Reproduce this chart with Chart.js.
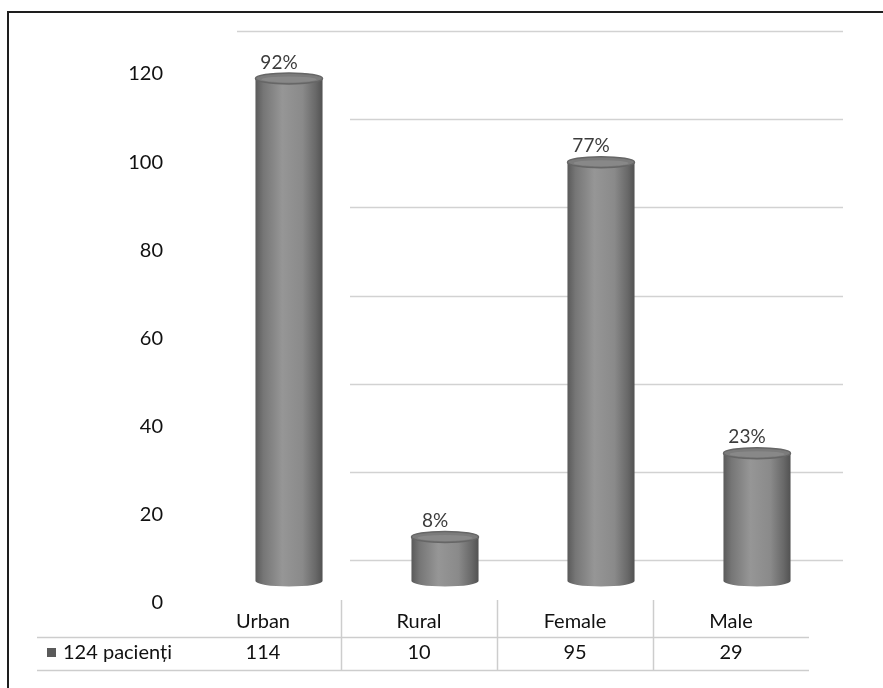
<!DOCTYPE html>
<html>
<head>
<meta charset="utf-8">
<script src="https://cdn.jsdelivr.net/npm/chart.js@4/dist/chart.umd.min.js"></script>
<style>
  html, body { margin: 0; padding: 0; background: #ffffff; }
  #wrap { position: relative; width: 883px; height: 688px; }
</style>
</head>
<body>
<div id="wrap"><canvas id="chart" width="883" height="688"></canvas></div>
<script>
// Patient distribution by residence and sex
const categories = ['Urban', 'Rural', 'Female', 'Male'];
const patients = [114, 10, 95, 29];
const totalPatients = 124;
const seriesName = '124 pacienți';
const yTicks = [0, 20, 40, 60, 80, 100, 120];

const FONT = 'Lato, "Open Sans", "DejaVu Sans", sans-serif';
const DEPTH_Y = 21;      // back wall sits higher than the bar bases
const LABEL_SHIFT = 26;  // table columns sit left of the bars (3D depth)

function cylinderGradient(ctx, left, right) {
  const g = ctx.createLinearGradient(left, 0, right, 0);
  g.addColorStop(0.00, '#5a5a5a');
  g.addColorStop(0.12, '#767676');
  g.addColorStop(0.40, '#969696');
  g.addColorStop(0.70, '#8a8a8a');
  g.addColorStop(0.90, '#686868');
  g.addColorStop(1.00, '#525252');
  return g;
}

// Back-wall gridlines, drawn behind the cylinders
const backWall = {
  id: 'backWall',
  beforeDatasetsDraw(chart) {
    const { ctx, chartArea: a, scales: { y } } = chart;
    ctx.save();
    ctx.strokeStyle = '#d2d2d2';
    ctx.lineWidth = 1.5;
    yTicks.forEach(v => {
      const py = Math.round(y.getPixelForValue(v) - DEPTH_Y) + 0.5;
      const x0 = v === y.max ? a.left + 26 : a.left + 139;
      ctx.beginPath();
      ctx.moveTo(x0, py);
      ctx.lineTo(a.right + 8, py);
      ctx.stroke();
    });
    ctx.restore();
    // shade each bar body with its own cylinder gradient
    chart.getDatasetMeta(0).data.forEach(el => {
      el.options.backgroundColor = cylinderGradient(ctx, el.x - el.width / 2, el.x + el.width / 2);
    });
  }
};

// Rounded base, elliptical top and percentage labels of each cylinder
const cylinders = {
  id: 'cylinders',
  afterDatasetsDraw(chart) {
    const { ctx } = chart;
    const meta = chart.getDatasetMeta(0);
    ctx.save();
    meta.data.forEach((el, i) => {
      const rx = el.width / 2;
      const ry = 5.5;
      const grad = cylinderGradient(ctx, el.x - rx, el.x + rx);
      // bottom
      ctx.beginPath();
      ctx.ellipse(el.x, el.base, rx, ry, 0, 0, Math.PI);
      ctx.closePath();
      ctx.fillStyle = grad;
      ctx.fill();
      // top
      ctx.beginPath();
      ctx.ellipse(el.x, el.y, rx, ry, 0, 0, Math.PI * 2);
      ctx.fillStyle = '#7b7b7b';
      ctx.fill();
      ctx.lineWidth = 1.5;
      ctx.strokeStyle = '#666666';
      ctx.stroke();
      ctx.beginPath();
      ctx.ellipse(el.x, el.y + 1, rx - 6, ry - 2.5, 0, 0, Math.PI * 2);
      ctx.fillStyle = 'rgba(160,160,160,0.35)';
      ctx.fill();
      // percentage of all patients
      const pct = Math.round(patients[i] / totalPatients * 100) + '%';
      ctx.font = '19px ' + FONT;
      ctx.fillStyle = '#3c3c3c';
      ctx.textAlign = 'center';
      ctx.textBaseline = 'middle';
      ctx.fillText(pct, el.x - 10, el.y - 16);
    });
    ctx.restore();
  }
};

// Data table under the plot, plus the outer frame
const dataTable = {
  id: 'dataTable',
  afterDraw(chart) {
    const { ctx, scales: { x } } = chart;
    const n = categories.length;
    const colW = x.width / n;
    const centers = categories.map((_, i) => x.getPixelForValue(i) - LABEL_SHIFT);
    const left = centers[0] - colW / 2;
    const right = centers[n - 1] + colW / 2;
    const rowTop = 600, rowMid = 637, rowBottom = 670;
    ctx.save();
    ctx.strokeStyle = '#cdcdcd';
    ctx.lineWidth = 1.5;
    for (let k = 1; k < n; k++) {
      const px = Math.round(left + k * colW) + 0.5;
      ctx.beginPath();
      ctx.moveTo(px, rowTop);
      ctx.lineTo(px, rowBottom);
      ctx.stroke();
    }
    [rowMid, rowBottom].forEach(py => {
      ctx.beginPath();
      ctx.moveTo(37, py + 0.5);
      ctx.lineTo(right, py + 0.5);
      ctx.stroke();
    });

    ctx.font = '20px ' + FONT;
    ctx.fillStyle = '#111111';
    ctx.textAlign = 'center';
    ctx.textBaseline = 'middle';
    categories.forEach((c, i) => ctx.fillText(c, centers[i], 622));
    patients.forEach((v, i) => ctx.fillText(String(v), centers[i], 653));

    // legend key for the series row
    ctx.fillStyle = '#5a5a5a';
    ctx.fillRect(47, 648, 9, 9);
    ctx.fillStyle = '#111111';
    ctx.textAlign = 'left';
    ctx.fillText(seriesName, 63, 653);

    // frame
    ctx.strokeStyle = '#1e1e1e';
    ctx.lineWidth = 2;
    ctx.beginPath();
    ctx.moveTo(8, 688);
    ctx.lineTo(8, 12);
    ctx.lineTo(883, 12);
    ctx.stroke();
    ctx.restore();
  }
};

new Chart(document.getElementById('chart'), {
  type: 'bar',
  data: {
    labels: categories,
    datasets: [{
      label: seriesName,
      data: patients,
      backgroundColor: () => '#8a8a8a',
      borderWidth: 0,
      categoryPercentage: 1,
      barPercentage: 0.43
    }]
  },
  options: {
    responsive: false,
    animation: false,
    devicePixelRatio: 1,
    layout: { padding: { left: 0, right: 48, top: 52, bottom: 0 } },
    plugins: { legend: { display: false }, tooltip: { enabled: false } },
    scales: {
      x: {
        type: 'category',
        grid: { display: false, drawTicks: false },
        border: { display: false },
        ticks: { display: false },
        afterFit(s) { s.height = 107; s.paddingLeft = 0; s.paddingRight = 0; }
      },
      y: {
        min: 0,
        max: 120,
        afterBuildTicks(s) { s.ticks = yTicks.map(v => ({ value: v })); },
        grid: { display: false, drawTicks: false },
        border: { display: false },
        ticks: {
          padding: 48,
          labelOffset: 22,
          color: '#111111',
          font: { family: FONT, size: 20 }
        },
        afterFit(s) { s.width = 211; s.paddingTop = 0; s.paddingBottom = 0; }
      }
    }
  },
  plugins: [backWall, cylinders, dataTable]
});
</script>
</body>
</html>
